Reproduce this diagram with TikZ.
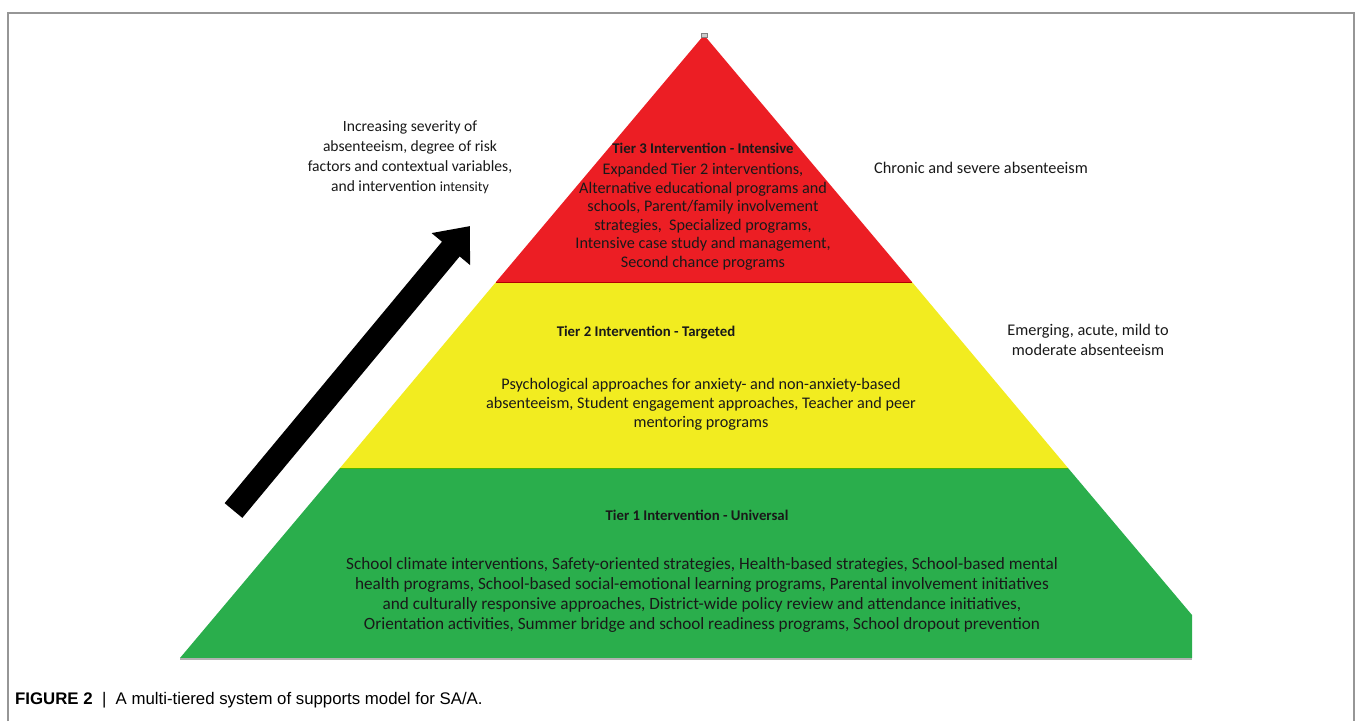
\documentclass[tikz,border=0pt]{standalone}
\usepackage{fontspec}
\setmainfont{Carlito}
\newfontfamily\capfont{Liberation Sans}
\usetikzlibrary{arrows.meta}
\definecolor{tierred}{RGB}{236,30,36}
\definecolor{tieryellow}{RGB}{242,236,32}
\definecolor{tiergreen}{RGB}{42,174,76}
\definecolor{framegray}{RGB}{150,150,150}
\tikzset{
  txt/.style={inner sep=0pt, align=center, text=black!90},
  tiertitle/.style={txt, font=\fontsize{14.8}{17}\selectfont\bfseries},
  tierbody/.style={txt, font=\fontsize{16.2}{18.5}\selectfont},
  sidetxt/.style={txt, font=\fontsize{16.3}{20}\selectfont},
}
\begin{document}
\begin{tikzpicture}[x=1pt,y=-1pt]
\useasboundingbox (0,0) rectangle (1355,721);
% frame
\draw[framegray, line width=1.5pt] (8,721) -- (8,13) -- (1354,13) -- (1354,721);
% pyramid
\fill[tierred] (704,35) -- (912,282) -- (496,282) -- cycle;
\fill[tieryellow] (496,282) -- (912,282) -- (1068,468) -- (340,468) -- cycle;
\fill[tiergreen] (340,468) -- (1068,468) -- (1192,615) -- (1192,658) -- (180,658) -- cycle;
\draw[black!30, line width=1.5pt] (180,659) -- (1192,659);
\draw[red!70!black, line width=0.8pt] (496,282) -- (912,282);
\draw[green!60!black!70!yellow, line width=0.8pt] (340,468) -- (1068,468);
\draw[gray, fill=gray!40, line width=0.5pt] (701,33) rectangle (707,37);
% arrow
\coordinate (arrowtail) at (233.5,510.5);
\coordinate (arrowtip) at (470,226);
\draw[black, line width=23pt, -{Triangle[length=30pt,width=48pt]}] (arrowtail) -- (arrowtip);
% side texts
\node[sidetxt, font=\fontsize{15.6}{20}\selectfont] (severity) at (410,157) {Increasing severity of\\absenteeism, degree of risk\\factors and contextual variables,\\and intervention {\fontsize{14}{20}\selectfont intensity}};
\node[sidetxt, anchor=east] (chronic) at (1088,168) {Chronic and severe absenteeism};
\node[sidetxt] (emerging) at (1088,339.5) {Emerging, acute, mild to\\moderate absenteeism};
% tier 3
\node[tiertitle] (t3title) at (703,148) {Tier 3 Intervention - Intensive};
\node[tierbody] (t3body) at (703,217) {Expanded Tier 2 interventions,\\Alternative educational programs and\\schools, Parent/family involvement\\strategies,\ \ Specialized programs,\\Intensive case study and management,\\Second chance programs};
% tier 2
\node[tiertitle] (t2title) at (646,333) {Tier 2 Intervention - Targeted};
\node[tierbody, font=\fontsize{16.2}{19}\selectfont] (t2body) at (701,404) {Psychological approaches for anxiety- and non-anxiety-based\\absenteeism, Student engagement approaches, Teacher and peer\\mentoring programs};
% tier 1
\node[tiertitle] (t1title) at (697,515) {Tier 1 Intervention - Universal};
\node[tierbody, font=\fontsize{17.2}{20}\selectfont] (t1body) at (702,595) {School climate interventions, Safety-oriented strategies, Health-based strategies, School-based mental\\health programs, School-based social-emotional learning programs, Parental involvement initiatives\\and culturally responsive approaches, District-wide policy review and attendance initiatives,\\Orientation activities, Summer bridge and school readiness programs, School dropout prevention};
% caption
\node[txt, text=black, anchor=west, font=\capfont\fontsize{16.8}{18}\selectfont] (caption) at (15,700) {\textbf{FIGURE 2} \ | \ A multi-tiered system of supports model for SA/A.};
\end{tikzpicture}
\end{document}
